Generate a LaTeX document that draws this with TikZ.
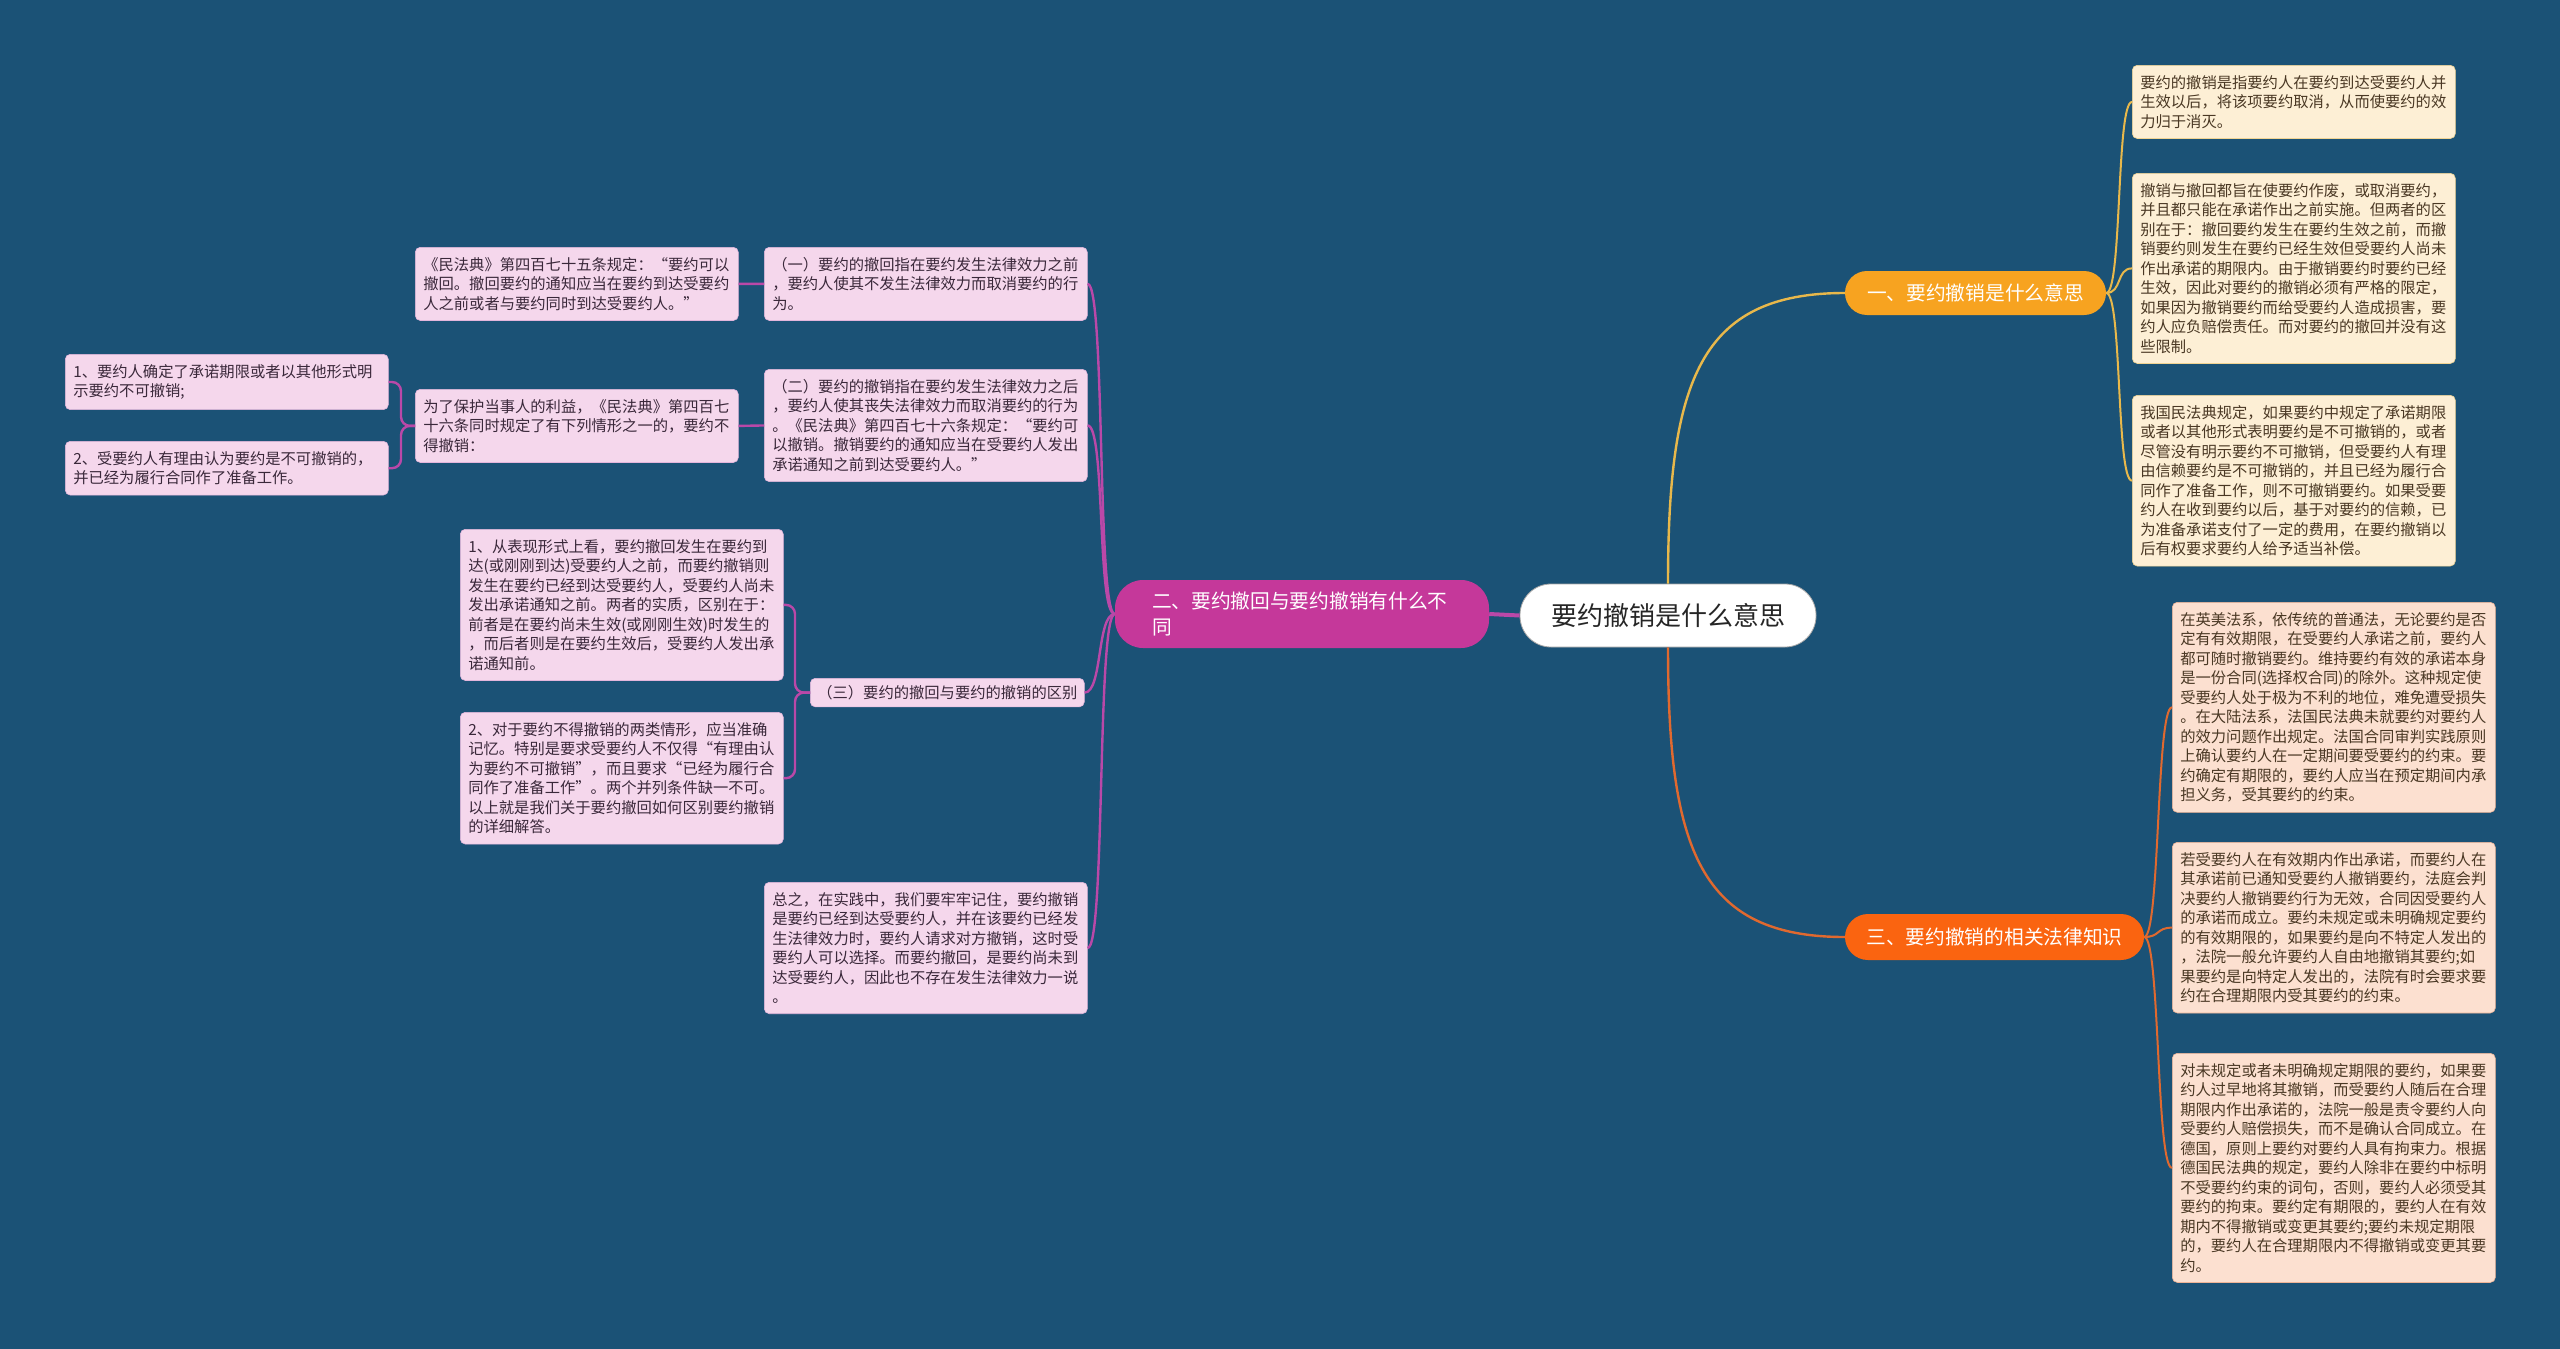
\documentclass[tikz,border=0pt]{standalone}
\usepackage{fontspec}
\setmainfont{Noto Sans CJK SC}
\definecolor{bgc}{RGB}{27,82,118}
\definecolor{bAc}{RGB}{247,163,32}
\definecolor{bBc}{RGB}{197,56,154}
\definecolor{bCc}{RGB}{250,100,16}
\definecolor{lnA}{RGB}{232,184,75}
\definecolor{lnB}{RGB}{186,72,168}
\definecolor{lnC}{RGB}{224,105,47}
\definecolor{fillA}{RGB}{253,239,213}
\definecolor{fillC}{RGB}{252,224,208}
\definecolor{fillB}{RGB}{245,215,236}
\definecolor{txA}{RGB}{74,56,36}
\definecolor{txB}{RGB}{58,40,58}
\begin{document}
\begin{tikzpicture}[x=1pt,y=-1pt,
  leaf/.style={anchor=north west, rounded corners=5pt, inner xsep=8pt, inner ysep=10pt,
    text width=307pt, align=left, font=\fontsize{15.3}{19.5}\selectfont},
  leafA/.style={leaf, fill=fillA, draw=lnA!60, line width=0.6pt, text=txA},
  leafC/.style={leaf, fill=fillC, draw=lnC!50, line width=0.6pt, text=txA},
  leafB/.style={leaf, fill=fillB, draw=lnB!40, line width=0.6pt, text=txB},
  branch/.style={text=white, font=\fontsize{19.7}{26}\selectfont, inner sep=0pt},
  conA/.style={draw=lnA, line width=2pt},
  conB/.style={draw=lnB, line width=2.4pt},
  conC/.style={draw=lnC, line width=2pt}]
\fill[bgc] (0,0) rectangle (2560,1349);
\useasboundingbox (0,0) rectangle (2560,1349);

% central
\node[fill=white, draw=gray!70, line width=0.8pt, rounded corners=31pt, minimum width=296pt, minimum height=63pt,
  inner sep=0pt, font=\fontsize{26}{30}\selectfont, text=black!85] (c) at (1668,615.5) {要约撤销是什么意思};

% branches
\node[branch, fill=bAc, rounded corners=22pt, minimum width=261pt, minimum height=44pt] (b1) at (1975.5,293) {一、要约撤销是什么意思};
\node[branch, fill=bBc, rounded corners=28pt, text width=300pt, align=left, inner xsep=37pt, minimum height=68pt] (b2) at (1302,614) {二、要约撤回与要约撤销有什么不\\同};
\node[branch, fill=bCc, rounded corners=23pt, minimum width=299pt, minimum height=46pt] (b3) at (1994.5,937) {三、要约撤销的相关法律知识};

\draw[draw=lnA, line width=2.4pt] (c.north) .. controls (1668,380) and (1700,293) .. (b1.west);
\draw[draw=lnC, line width=2.4pt] (c.south) .. controls (1668,850) and (1700,937) .. (b3.west);
\draw[draw=lnB, line width=4pt] (c.west) -- (b2.east);

% right top leaves
\node[leafA] (r1) at (2132,65) {要约的撤销是指要约人在要约到达受要约人并\\生效以后，将该项要约取消，从而使要约的效\\力归于消灭。};
\node[leafA] (r2) at (2132,173) {撤销与撤回都旨在使要约作废，或取消要约，\\并且都只能在承诺作出之前实施。但两者的区\\别在于：撤回要约发生在要约生效之前，而撤\\销要约则发生在要约已经生效但受要约人尚未\\作出承诺的期限内。由于撤销要约时要约已经\\生效，因此对要约的撤销必须有严格的限定，\\如果因为撤销要约而给受要约人造成损害，要\\约人应负赔偿责任。而对要约的撤回并没有这\\些限制。};
\node[leafA] (r3) at (2132,395) {我国民法典规定，如果要约中规定了承诺期限\\或者以其他形式表明要约是不可撤销的，或者\\尽管没有明示要约不可撤销，但受要约人有理\\由信赖要约是不可撤销的，并且已经为履行合\\同作了准备工作，则不可撤销要约。如果受要\\约人在收到要约以后，基于对要约的信赖，已\\为准备承诺支付了一定的费用，在要约撤销以\\后有权要求要约人给予适当补偿。};

% right bottom leaves
\node[leafC] (r4) at (2172,602) {在英美法系，依传统的普通法，无论要约是否\\定有有效期限，在受要约人承诺之前，要约人\\都可随时撤销要约。维持要约有效的承诺本身\\是一份合同(选择权合同)的除外。这种规定使\\受要约人处于极为不利的地位，难免遭受损失\\。在大陆法系，法国民法典未就要约对要约人\\的效力问题作出规定。法国合同审判实践原则\\上确认要约人在一定期间要受要约的约束。要\\约确定有期限的，要约人应当在预定期间内承\\担义务，受其要约的约束。};
\node[leafC] (r5) at (2172,842) {若受要约人在有效期内作出承诺，而要约人在\\其承诺前已通知受要约人撤销要约，法庭会判\\决要约人撤销要约行为无效，合同因受要约人\\的承诺而成立。要约未规定或未明确规定要约\\的有效期限的，如果要约是向不特定人发出的\\，法院一般允许要约人自由地撤销其要约;如\\果要约是向特定人发出的，法院有时会要求要\\约在合理期限内受其要约的约束。};
\node[leafC] (r6) at (2172,1053) {对未规定或者未明确规定期限的要约，如果要\\约人过早地将其撤销，而受要约人随后在合理\\期限内作出承诺的，法院一般是责令要约人向\\受要约人赔偿损失，而不是确认合同成立。在\\德国，原则上要约对要约人具有拘束力。根据\\德国民法典的规定，要约人除非在要约中标明\\不受要约约束的词句，否则，要约人必须受其\\要约的拘束。要约定有期限的，要约人在有效\\期内不得撤销或变更其要约;要约未规定期限\\的，要约人在合理期限内不得撤销或变更其要\\约。};

% left leaves
\node[leafB] (l1) at (764,247) {（一）要约的撤回指在要约发生法律效力之前\\，要约人使其不发生法律效力而取消要约的行\\为。};
\node[leafB] (l1a) at (415,247) {《民法典》第四百七十五条规定：“要约可以\\撤回。撤回要约的通知应当在要约到达受要约\\人之前或者与要约同时到达受要约人。”};
\node[leafB] (l2) at (764,369) {（二）要约的撤销指在要约发生法律效力之后\\，要约人使其丧失法律效力而取消要约的行为\\。《民法典》第四百七十六条规定：“要约可\\以撤销。撤销要约的通知应当在受要约人发出\\承诺通知之前到达受要约人。”};
\node[leafB] (l2a) at (415,389) {为了保护当事人的利益，《民法典》第四百七\\十六条同时规定了有下列情形之一的，要约不\\得撤销：};
\node[leafB] (l2a1) at (65,354) {1、要约人确定了承诺期限或者以其他形式明\\示要约不可撤销;};
\node[leafB] (l2a2) at (65,441) {2、受要约人有理由认为要约是不可撤销的，\\并已经为履行合同作了准备工作。};
\node[leafB, text width=260pt, inner xsep=7pt, inner ysep=7pt] (l3) at (810,678) {（三）要约的撤回与要约的撤销的区别};
\node[leafB] (l3a) at (460,529) {1、从表现形式上看，要约撤回发生在要约到\\达(或刚刚到达)受要约人之前，而要约撤销则\\发生在要约已经到达受要约人，受要约人尚未\\发出承诺通知之前。两者的实质，区别在于：\\前者是在要约尚未生效(或刚刚生效)时发生的\\，而后者则是在要约生效后，受要约人发出承\\诺通知前。};
\node[leafB] (l3b) at (460,712) {2、对于要约不得撤销的两类情形，应当准确\\记忆。特别是要求受要约人不仅得“有理由认\\为要约不可撤销”，而且要求“已经为履行合\\同作了准备工作”。两个并列条件缺一不可。\\以上就是我们关于要约撤回如何区别要约撤销\\的详细解答。};
\node[leafB] (l4) at (764,882) {总之，在实践中，我们要牢牢记住，要约撤销\\是要约已经到达受要约人，并在该要约已经发\\生法律效力时，要约人请求对方撤销，这时受\\要约人可以选择。而要约撤回，是要约尚未到\\达受要约人，因此也不存在发生法律效力一说\\。};

% connectors right top
\foreach \n in {r1,r2,r3}
  \draw[conA] (b1.east) .. controls +(16,0) and +(-16,0) .. (\n.west);
\foreach \n in {r4,r5,r6}
  \draw[conC] (b3.east) .. controls +(16,0) and +(-16,0) .. (\n.west);
\foreach \n in {l1,l2,l3,l4}
  \draw[conB] (b2.west) .. controls +(-18,0) and +(18,0) .. (\n.east);
\draw[conB] (l1.west) -- (l1a.east);
\draw[conB] (l2.west) -- (l2a.east);
\draw[conB, rounded corners=9pt] (l2a.west) -- ++(-14,0) |- (l2a1.east);
\draw[conB, rounded corners=9pt] (l2a.west) -- ++(-14,0) |- (l2a2.east);
\draw[conB, rounded corners=9pt] (l3.west) -- ++(-15,0) |- (l3a.east);
\draw[conB, rounded corners=9pt] (l3.west) -- ++(-15,0) |- (l3b.east);
\end{tikzpicture}
\end{document}
